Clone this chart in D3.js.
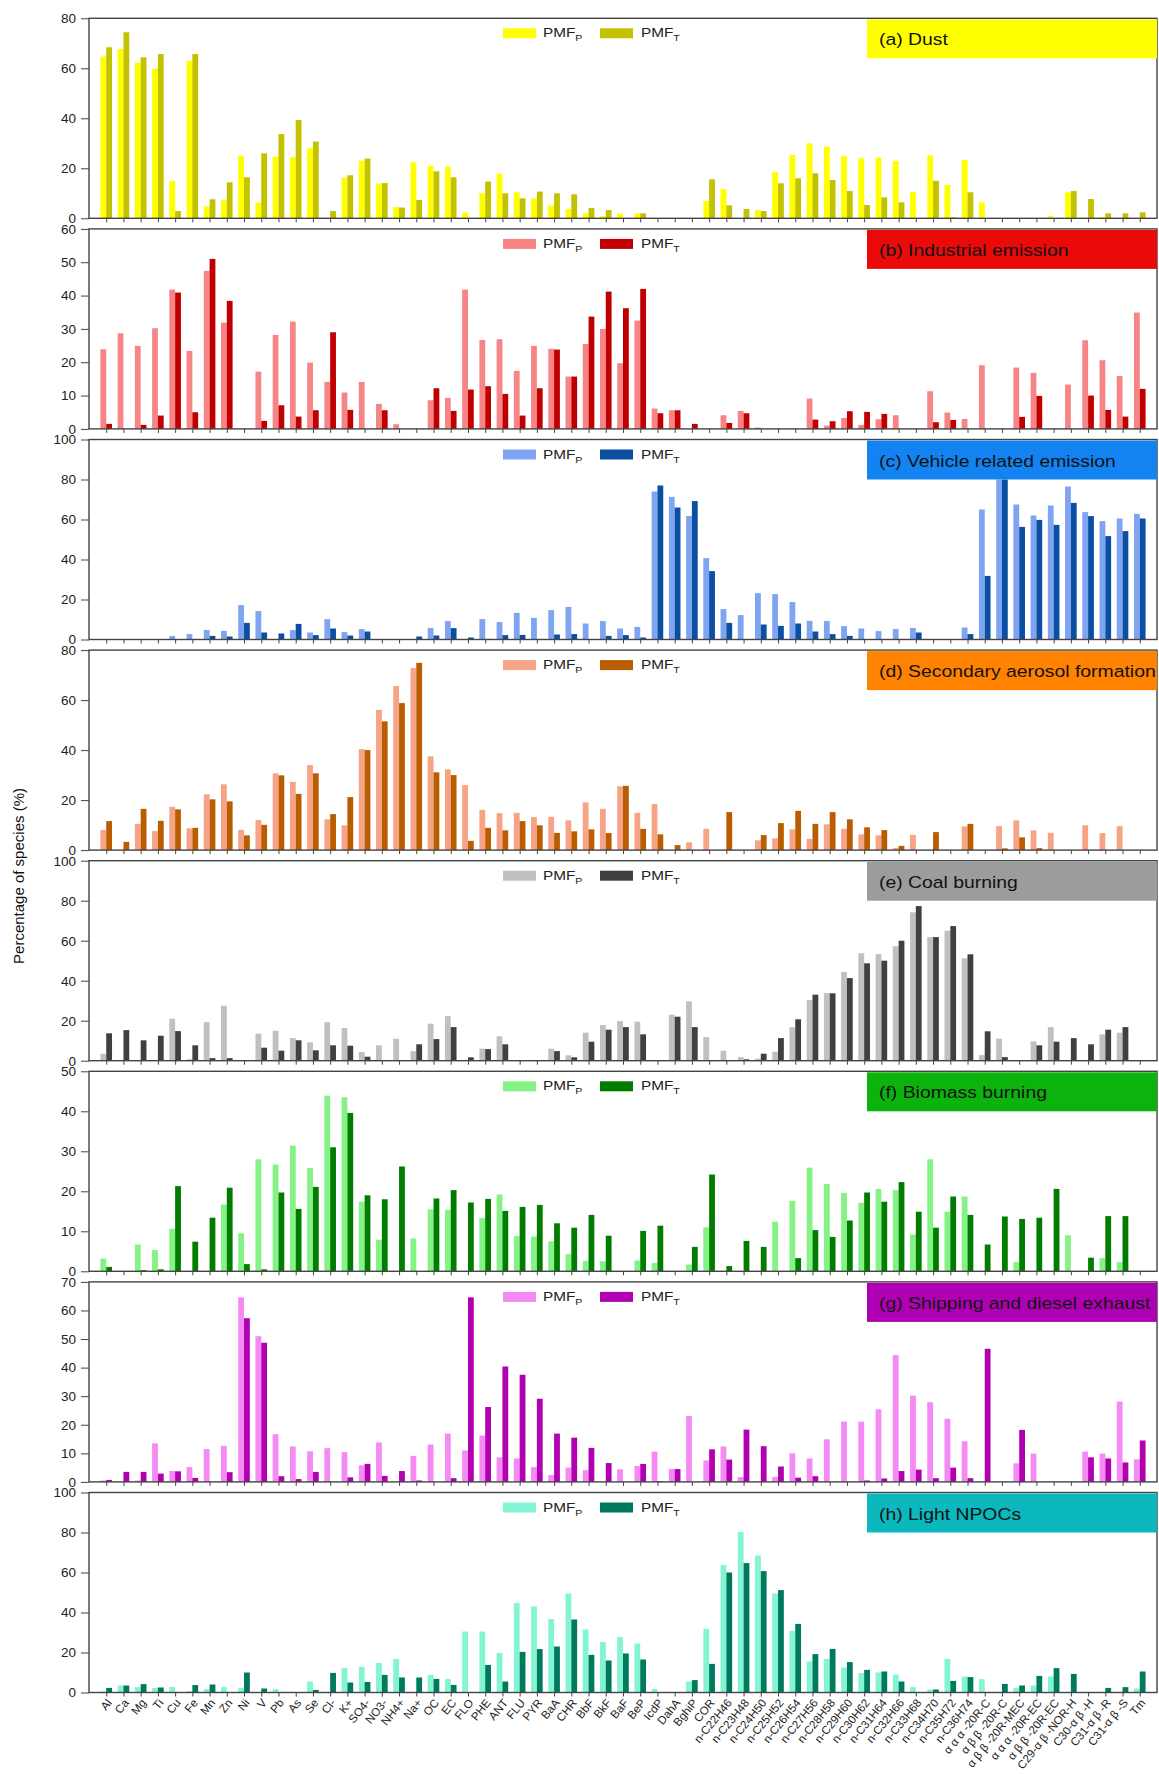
<!DOCTYPE html>
<html><head><meta charset="utf-8">
<script src="https://cdn.jsdelivr.net/npm/d3@7"></script>
<style>
body{margin:0;background:#fff;}
text{font-family:"Liberation Sans",Arial,sans-serif;}
</style>
</head><body>
<svg id="chart" width="1159" height="1774"></svg>
<script>
// ---------------- DATA ----------------
const categories = ["Al","Ca","Mg","Ti","Cu","Fe","Mn","Zn","Ni","V","Pb","As","Se","Cl-","K+","SO4-","NO3-","NH4+","Na+","OC","EC",
 "FLO","PHE","ANT","FLU","PYR","BaA","CHR","BbF","BkF","BaF","BeP","IcdP","DahA","BghiP","COR",
 "n-C22H46","n-C23H48","n-C24H50","n-C25H52","n-C26H54","n-C27H56","n-C28H58","n-C29H60","n-C30H62","n-C31H64","n-C32H66","n-C33H68","n-C34H70","n-C35H72","n-C36H74",
 "α α α -20R-C","α β β -20R-C","α β β -20R-MEC","α α α -20R-EC","α β β -20R-EC","C29-α β -NOR-H","C30-α β -H","C31-α β -R","C31-α β -S","Tm"];

const seriesNames = ["PMF", "PMF"];
const seriesSubs = ["P", "T"];

const dustP = [64.7,67.7,62.3,59.9,14.9,63,4.7,7.2,25,6.3,24.7,24.4,28,0,16.3,23,13.9,4.5,22.4,21,20.7,2.3,10,17.9,10.4,8,5.2,3.7,2,0.9,1.9,2,0,0,0,6.9,11.7,0,3.3,18.4,25.3,30,28.7,25,24,24.3,23,10.5,25.2,13.3,23.3,6.4,0,0,0,1,10.4,0.4,0.5,0,0];
const dustT = [68.4,74.4,64.4,65.7,2.9,65.7,7.6,14.4,16.4,26,33.7,39.3,30.7,2.9,17.2,23.9,14.1,4.3,7.3,18.8,16.4,0,14.7,10,8,10.7,10,9.6,4.1,3.3,0,2,0,0,0,15.6,5.2,3.7,2.9,14,16,18,15.3,10.9,5.3,8.4,6.4,0,15,0.4,10.4,0,0,0,0,0,10.9,7.7,2,2,2.4];

const indP = [23.9,28.7,24.9,30.2,41.8,23.4,47.4,31.9,0,17.2,28.2,32.2,19.9,14.1,10.9,14.1,7.5,1.4,0,8.6,9.3,41.8,26.7,26.9,17.4,24.9,24,15.7,25.5,30,19.7,32.5,6.1,5.6,0,0,4.1,5.4,0.4,0,0,9.1,1,3.3,1.2,2.9,4.1,0,11.3,4.9,3,19.1,0,18.4,16.8,0,13.3,26.6,20.6,15.9,34.9];
const indT = [1.5,0,1.2,4,40.9,5,51,38.4,0,2.4,7.1,3.7,5.6,29,5.7,0,5.6,0,0,12.2,5.4,11.8,12.8,10.5,4,12.2,23.8,15.7,33.7,41.2,36.2,42,4.7,5.6,1.5,0,1.8,4.7,0,0,0,2.8,2.3,5.3,5.1,4.5,0,0,2,2.7,0,0,0,3.6,9.9,0,0,10,5.7,3.7,12];

const vehP = [0,0,0,0,1.8,2.7,4.8,4.3,17.2,14.2,0,4.7,3.5,10.2,3.7,5.2,0,0,0,5.8,9.2,0,10.2,8.7,13.3,10.8,14.7,16.3,8,9.2,5.5,6.3,74,71.3,61.8,40.7,15.2,12.2,23.2,22.7,18.7,9.3,9.3,6.7,5.5,4.2,5.2,5.8,0,0,6,65,80,67.5,62,67,76.5,63.7,59.2,60.5,62.8];
const vehT = [0,0,0,0,0,0,1.8,1.5,8.3,3.5,3,7.8,2.2,5.5,2,4,0,0,1.5,2,5.7,1,0.3,2.2,2.3,0,2.5,2.7,0,1.8,2.2,1,77,66,69.2,34.2,8.3,0,7.5,6.8,8,4,2.7,1.8,0,0,0,3.5,0,0,2.7,31.8,80,56.3,59.8,57.3,68.3,61.7,51.7,54.2,60.5];

const secP = [8,0,10.5,7.6,17.3,8.7,22.3,26.3,8.1,12,30.7,27.3,34,12.3,9.9,40.4,56.1,65.6,72.8,37.5,32.3,26,16.1,14.8,14.9,13.2,13.3,11.9,19.1,16.5,25.5,14.9,18.4,0,3.1,8.5,0,0,3.9,4.7,8.3,4.5,10.3,8.5,6.3,5.9,0.9,6.1,0,0,9.5,0,9.6,11.9,7.9,6.9,0,9.9,6.8,9.6,0];
const secT = [11.6,3.3,16.5,11.7,16.3,8.9,20.3,19.5,5.9,10.1,29.9,22.5,30.7,14.4,21.2,40,51.5,58.8,74.9,31.1,30,3.7,8.9,7.9,11.6,9.9,6.9,7.5,8.3,6.8,25.7,8.5,6.3,2,0,0,15.2,0,6,10.8,15.7,10.5,15.2,12.3,9.1,8,1.7,0,7.2,0,10.5,0,0.7,5.1,0.8,0,0,0,0,0,0];

const coalP = [3.5,0,0,0,21,0.8,19.3,27.5,0,13.5,15,11.3,9.2,19.3,16.3,4.3,7.7,11,4.8,18.5,22.3,0,6,12.2,0,0,6,2.7,14,17.8,19.8,19.5,0,23,29.7,11.8,5,1.8,1,4.5,16.7,30.3,33.8,44.3,53.7,53.3,57.2,74.2,61.8,65,51.2,2.8,11,0,9.7,16.8,0,0,13.2,14,0];
const coalT = [13.7,15.3,10.2,12.5,14.8,7.7,1.3,1.3,0,6.5,5,10.2,5.2,7.7,7.5,2,0,0,8.2,10.8,16.8,1.7,5.8,8.2,0,0,4.8,1.7,9.5,15.5,16.8,13.2,0,22,16.8,0,0,0.7,3.5,11.3,20.7,33,33.7,41.3,48.7,50,60,77.3,61.8,67.3,53.2,14.7,1.8,0,7.7,9.5,11.3,8.2,15.5,16.8,0];

const bioP = [3.2,0,6.7,5.3,10.6,0,0,16.7,9.5,28,26.7,31.4,25.8,43.9,43.5,17.4,7.9,0,8.2,15.5,15.4,0,13.3,19.2,8.8,8.7,7.5,4.3,2.6,2.5,0,2.7,2.1,0,1.7,11,0,0,0,12.4,17.6,25.9,21.8,19.6,17.1,20.6,20.3,9.2,28,14.9,18.7,0,0,2.3,0,0,9,0,3.3,2.3,0];
const bioT = [1.1,0,0.3,0.5,21.3,7.4,13.4,20.9,1.8,0.5,19.7,15.6,21.1,31,39.6,19,18,26.2,0,18.2,20.3,17.2,18.1,15.1,16.1,16.6,12,10.9,14.1,8.9,0,10.1,11.4,0,6.1,24.2,1.3,7.6,6.1,0,3.3,10.3,8.6,12.7,19.7,17.4,22.3,14.9,10.9,18.7,14.1,6.7,13.7,13.1,13.4,20.6,0,3.4,13.8,13.8,0];

const shipP = [0.5,0,0.5,13.5,3.8,5.2,11.5,12.6,64.6,51,16.7,12.4,10.7,11.8,10.4,5.8,13.8,0,9.1,13.1,16.9,11,16.2,8.6,8.2,5.2,2.4,5,4.1,0,4.4,5.6,10.6,4.5,23.1,7.5,12.4,1.7,0,1.7,10,8.2,14.9,21.1,21.1,25.4,44.4,30.2,27.9,22.1,14.2,0,0,6.5,9.9,0,0,10.6,9.9,28.1,7.9];
const shipT = [0.7,3.5,3.5,2.9,3.7,1.4,0,3.4,57.3,48.7,2,1,3.5,0,1.6,6.3,2.1,3.8,0.5,0,1.3,64.6,26.2,40.4,37.5,29.1,16.9,15.5,11.9,6.6,0,6.3,0.3,4.5,0,11.4,7.8,18.3,12.5,5.4,1.5,2,0,0,0.5,1.2,3.8,4.3,1.3,5,1.3,46.6,0,18.2,0,0,0,8.6,8.2,6.8,14.5];

const npocP = [0.5,3.5,2.7,2.3,2.8,0.7,1.7,2.7,2.3,0,1.7,0,5.5,0,12.2,12.8,14.8,16.8,0,8.8,6.7,30.5,30.5,19.8,44.7,43,36.7,49.5,31.5,25.3,27.7,24.5,1.8,0,5.5,31.8,63.7,80.2,68.5,49.5,30.8,15.5,16.8,12.5,9.7,10,9,2.7,1.5,16.8,8,6.7,0,2.3,3.5,8,0,0,0,0,2];
const npocT = [2.3,3.5,4.2,2.5,0,3.7,4,0,10,2,0,0,1.3,9.8,5,5.3,8.8,7.5,7.5,6.8,3.8,0,13.8,5.5,20.3,21.7,23,36.5,18.8,16,19.5,16.5,0,0,6.2,14.3,60,64.7,60.7,51.2,34.3,19.2,21.8,15.2,11.3,10.5,5.5,0,1.5,5.8,7.7,0,4.3,3.5,8.3,12.2,9.3,0,2.3,2.7,10.5];

const panelTitles = ["(a) Dust","(b) Industrial emission","(c) Vehicle related emission","(d) Secondary aerosol formation","(e) Coal burning","(f) Biomass burning","(g) Shipping and diesel exhaust","(h) Light NPOCs"];
const panelValuesP = [dustP, indP, vehP, secP, coalP, bioP, shipP, npocP];
const panelValuesT = [dustT, indT, vehT, secT, coalT, bioT, shipT, npocT];
const yMax = [80, 60, 100, 80, 100, 50, 70, 100];
const yStep = [20, 10, 20, 20, 20, 10, 10, 20];
const yTitle = "Percentage of species (%)";

// ---------------- STYLE ----------------
const colorP = ["#ffff00","#f78585","#7ea4f2","#f6a386","#c0c0c0","#84f284","#f58af5","#84f5d4"];
const colorT = ["#c2c200","#c00000","#0b4fa3","#b95d00","#404040","#007d00","#b000b0","#007a5e"];
const colorBox = ["#ffff00","#ea0a0a","#1283f0","#ff8200","#9c9c9c","#0cb30c","#b000b4","#0ab8bd"];

const svg = d3.select("#chart");
const left = 89, right = 1157, top0 = 18.3, panelH = 200, panelGap = 210.6;
const x = d3.scalePoint().domain(categories).range([left, right]).padding(1);
const bw = 5.8;

panelTitles.forEach((title, k) => {
  const top = top0 + k * panelGap, bottom = top + panelH;
  const y = d3.scaleLinear().domain([0, yMax[k]]).range([bottom, top]);
  const g = svg.append("g");

  // bars
  g.selectAll("rect.p").data(panelValuesP[k]).join("rect")
    .attr("x", (d, i) => x(categories[i]) - bw).attr("width", bw)
    .attr("y", d => y(d)).attr("height", d => y(0) - y(d))
    .attr("fill", colorP[k]);
  g.selectAll("rect.t").data(panelValuesT[k]).join("rect")
    .attr("x", (d, i) => x(categories[i])).attr("width", bw)
    .attr("y", d => y(d)).attr("height", d => y(0) - y(d))
    .attr("fill", colorT[k]);

  // axes
  const ya = g.append("g").attr("transform", `translate(${left},0)`)
    .call(d3.axisLeft(y).tickValues(d3.range(0, yMax[k] + 0.1, yStep[k])).tickSize(8).tickPadding(5).tickFormat(d3.format("d")));
  ya.select(".domain").remove();
  ya.selectAll("text").attr("font-size", 13.5).attr("fill", "#222").attr("font-family", '"Liberation Sans",Arial,sans-serif');
  ya.selectAll("line").attr("stroke", "#444");

  const xa = g.append("g").attr("transform", `translate(0,${bottom})`)
    .call(d3.axisBottom(x).tickSize(4).tickFormat(""));
  xa.select(".domain").remove();
  xa.selectAll("line").attr("stroke", "#444");

  // frame
  g.append("rect").attr("x", left).attr("y", top).attr("width", right - left).attr("height", panelH)
    .attr("fill", "none").attr("stroke", "#444").attr("stroke-width", 1.4);

  // legend
  const lg = g.append("g").attr("transform", `translate(0,${top})`);
  const legX = [[503, 543], [600, 641]];
  [colorP[k], colorT[k]].forEach((c, j) => {
    lg.append("rect").attr("x", legX[j][0]).attr("y", 10).attr("width", 33).attr("height", 10).attr("fill", c);
    const t = lg.append("text").attr("transform", `translate(${legX[j][1]},19) scale(1.18,1)`).attr("font-size", 13).attr("fill", "#222");
    t.append("tspan").text(seriesNames[j]);
    t.append("tspan").attr("font-size", 9).attr("dy", 4).text(seriesSubs[j]);
  });

  // title box
  g.append("rect").attr("x", 867).attr("y", top + 1).attr("width", right - 867).attr("height", 39).attr("fill", colorBox[k]);
  g.append("text").attr("transform", `translate(879,${top + 27}) scale(1.14,1)`)
    .attr("font-size", 17).attr("fill", "#111").text(title);

  // x labels on last panel
  if (k === panelTitles.length - 1) {
    g.selectAll("text.xl").data(categories).join("text")
      .attr("transform", d => `translate(${x(d) + 3},${bottom + 8}) rotate(-51)`)
      .attr("text-anchor", "end").attr("dy", "0.35em")
      .attr("font-size", 11.5).attr("fill", "#222").text(d => d);
  }
});

svg.append("text").attr("transform", `translate(24,${876}) rotate(-90)`)
  .attr("text-anchor", "middle").attr("font-size", 15).attr("fill", "#111").text(yTitle);
</script>
</body></html>
